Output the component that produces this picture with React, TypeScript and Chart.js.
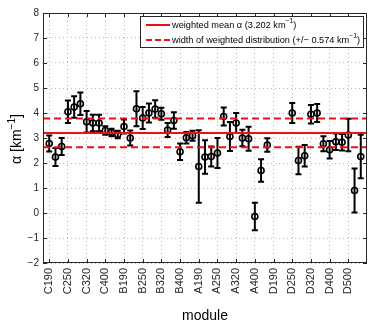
import React, { useEffect, useRef } from 'react';
import { Chart, registerables } from 'chart.js';

Chart.register(...registerables);

// ---- data ----
const moduleTicks = ['C190', 'C250', 'C320', 'C400', 'B190', 'B250', 'B320', 'B400', 'A190', 'A250', 'A320', 'A400', 'D190', 'D250', 'D320', 'D400', 'D500'];
const pointIndex = [0, 1, 2, 3, 4, 5, 6, 7, 8, 9, 10, 11, 12, 13, 14, 15, 16, 17, 18, 19, 20, 21, 22, 23, 24, 25, 26, 27, 28, 29, 30, 31, 32, 33, 34, 35, 39, 40, 41, 42, 43, 44, 45, 46, 47, 48, 49, 50];
const alphaValues = [2.78, 2.24, 2.66, 4.05, 4.24, 4.37, 3.65, 3.6, 3.6, 3.3, 3.22, 3.14, 3.46, 3.0, 4.17, 3.8, 4.0, 4.16, 3.97, 3.32, 3.7, 2.45, 3.01, 3.09, 1.86, 2.24, 2.26, 2.4, 3.86, 3.06, 3.6, 3.0, 2.97, -0.14, 1.7, 2.72, 4.0, 2.1, 2.29, 3.95, 4.0, 2.77, 2.53, 2.85, 2.83, 3.12, 0.9, 2.26];
const alphaErrors = [0.32, 0.36, 0.34, 0.45, 0.43, 0.45, 0.43, 0.33, 0.33, 0.17, 0.15, 0.15, 0.28, 0.3, 0.7, 0.44, 0.38, 0.35, 0.24, 0.28, 0.33, 0.33, 0.23, 0.2, 1.45, 0.67, 0.4, 0.6, 0.36, 0.58, 0.4, 0.33, 0.48, 0.55, 0.45, 0.27, 0.4, 0.55, 0.43, 0.37, 0.36, 0.3, 0.35, 0.33, 0.33, 0.65, 0.88, 0.87];
const meanAlpha = 3.202;
const widthAlpha = 0.574;
const xMin = -1;
const xMax = 51;
const tickStep = 3;
const yMin = -2;
const yMax = 8;

const FONT = '"Liberation Sans", Arial, Helvetica, sans-serif';
const RED = '#f01010';
const AXIS = '#262626';

const points = pointIndex.map((x, i) => ({ x, y: alphaValues[i] }));

const errorBarPlugin = {
  id: 'errorBars',
  beforeDatasetsDraw(chart: any) {
    const { ctx, scales } = chart;
    const xs = scales.x;
    const ys = scales.y;
    ctx.save();
    ctx.strokeStyle = '#000';
    ctx.lineWidth = 2;
    pointIndex.forEach((xi, i) => {
      const px = xs.getPixelForValue(xi);
      const top = ys.getPixelForValue(alphaValues[i] + alphaErrors[i]);
      const bot = ys.getPixelForValue(alphaValues[i] - alphaErrors[i]);
      ctx.beginPath();
      ctx.moveTo(px, top);
      ctx.lineTo(px, bot);
      ctx.moveTo(px - 3, top);
      ctx.lineTo(px + 3, top);
      ctx.moveTo(px - 3, bot);
      ctx.lineTo(px + 3, bot);
      ctx.stroke();
    });
    ctx.restore();
  },
};

function drawSupText(ctx: CanvasRenderingContext2D, parts: [string, boolean][], x: number, y: number, size: number, supSize: number, supRise: number, align: 'left' | 'center') {
  let total = 0;
  const widths = parts.map(([t, sup]) => {
    ctx.font = `${sup ? supSize : size}px ${FONT}`;
    const w = ctx.measureText(t).width;
    total += w;
    return w;
  });
  let cx = align === 'center' ? x - total / 2 : x;
  ctx.textAlign = 'left';
  ctx.textBaseline = 'middle';
  parts.forEach(([t, sup], i) => {
    ctx.font = `${sup ? supSize : size}px ${FONT}`;
    ctx.fillText(t, cx, sup ? y - supRise : y);
    cx += widths[i];
  });
}

const framePlugin = {
  id: 'frame',
  afterDraw(chart: any) {
    const { ctx, chartArea: a, scales } = chart;
    const xs = scales.x;
    const ys = scales.y;
    ctx.save();
    // ticks inside
    ctx.strokeStyle = AXIS;
    ctx.lineWidth = 1;
    ctx.beginPath();
    moduleTicks.forEach((_, i) => {
      const px = Math.round(xs.getPixelForValue(i * tickStep)) + 0.5;
      ctx.moveTo(px, a.bottom);
      ctx.lineTo(px, a.bottom - 4);
      ctx.moveTo(px, a.top);
      ctx.lineTo(px, a.top + 4);
    });
    for (let v = yMin; v <= yMax; v++) {
      const py = Math.round(ys.getPixelForValue(v)) + 0.5;
      ctx.moveTo(a.left, py);
      ctx.lineTo(a.left + 4, py);
      ctx.moveTo(a.right, py);
      ctx.lineTo(a.right - 4, py);
    }
    ctx.stroke();
    // box
    ctx.strokeRect(Math.round(a.left) + 0.5, Math.round(a.top) + 0.5, Math.round(a.right - a.left) - 1, Math.round(a.bottom - a.top) - 1);

    // legend
    const lx = 140, ly = 16, lw = 224, lh = 32;
    ctx.fillStyle = '#fff';
    ctx.fillRect(lx, ly, lw, lh);
    ctx.strokeStyle = AXIS;
    ctx.strokeRect(lx + 0.5, ly + 0.5, lw - 1, lh - 1);
    const r1 = 25, r2 = 40;
    ctx.strokeStyle = RED;
    ctx.lineWidth = 2;
    ctx.beginPath();
    ctx.moveTo(146, r1);
    ctx.lineTo(170, r1);
    ctx.stroke();
    ctx.setLineDash([6, 3]);
    ctx.beginPath();
    ctx.moveTo(146, r2);
    ctx.lineTo(170, r2);
    ctx.stroke();
    ctx.setLineDash([]);
    ctx.fillStyle = '#000';
    drawSupText(ctx, [[`weighted mean α (${meanAlpha.toFixed(3)} km`, false], ['−1', true], [')', false]], 172, r1, 9.2, 6.8, 3.5, 'left');
    drawSupText(ctx, [[`width of weighted distribution (+/− ${widthAlpha.toFixed(3)} km`, false], ['−1', true], [')', false]], 172, r2, 9.2, 6.8, 3.5, 'left');

    // axis titles
    ctx.fillStyle = '#000';
    ctx.font = `14px ${FONT}`;
    ctx.textAlign = 'center';
    ctx.textBaseline = 'middle';
    ctx.fillText('module', (a.left + a.right) / 2, 316);
    ctx.translate(17, 139);
    ctx.rotate(-Math.PI / 2);
    drawSupText(ctx, [['α [km', false], ['−1', true], [']', false]], 0, 0, 14, 10, 5, 'center');
    ctx.restore();
  },
};

export default function App() {
  const ref = useRef<HTMLCanvasElement>(null);
  useEffect(() => {
    if (!ref.current) return;
    const hline = (y: number) => [{ x: xMin, y }, { x: xMax, y }];
    const chart = new Chart(ref.current, {
      type: 'line',
      data: {
        datasets: [
          { label: 'weighted mean', data: hline(meanAlpha), borderColor: RED, borderWidth: 2, pointRadius: 0, fill: false },
          { label: 'upper width', data: hline(meanAlpha + widthAlpha), borderColor: RED, borderWidth: 2, borderDash: [7, 4], pointRadius: 0, fill: false },
          { label: 'lower width', data: hline(meanAlpha - widthAlpha), borderColor: RED, borderWidth: 2, borderDash: [7, 4], pointRadius: 0, fill: false },
          {
            label: 'alpha',
            data: points,
            showLine: false,
            pointRadius: 3,
            pointBorderWidth: 1.6,
            pointBorderColor: '#000',
            pointBackgroundColor: 'rgba(0,0,0,0)',
          },
        ],
      },
      options: {
        responsive: false,
        animation: false,
        layout: { padding: { left: 0, right: 7, top: 13, bottom: 0 } },
        plugins: { legend: { display: false }, tooltip: { enabled: false } },
        scales: {
          x: {
            type: 'linear',
            min: xMin,
            max: xMax,
            afterBuildTicks: (axis: any) => {
              axis.ticks = moduleTicks.map((_, i) => ({ value: i * tickStep }));
            },
            afterFit: (s: any) => { s.height = 61; },
            ticks: {
              autoSkip: false,
              minRotation: 90,
              maxRotation: 90,
              padding: 5,
              color: AXIS,
              font: { family: FONT, size: 11 },
              callback: (v: any) => moduleTicks[Math.round(Number(v) / tickStep)] ?? '',
            },
            grid: { color: '#b8b8b8', drawTicks: false, lineWidth: 1 },
            border: { display: false, dash: [1, 3] },
          },
          y: {
            min: yMin,
            max: yMax,
            afterFit: (s: any) => { s.width = 43; },
            ticks: {
              stepSize: 1,
              padding: 4,
              color: AXIS,
              font: { family: FONT, size: 10 },
              callback: (v: any) => String(v).replace('-', '−'),
            },
            grid: { color: '#b8b8b8', drawTicks: false, lineWidth: 1 },
            border: { display: false, dash: [1, 3] },
          },
        },
      },
      plugins: [errorBarPlugin, framePlugin],
    });
    return () => chart.destroy();
  }, []);
  return (
    <div style={{ position: 'fixed', left: 0, top: 0, width: 374, height: 324, background: '#fff' }}>
      <canvas ref={ref} width={374} height={324} />
    </div>
  );
}
